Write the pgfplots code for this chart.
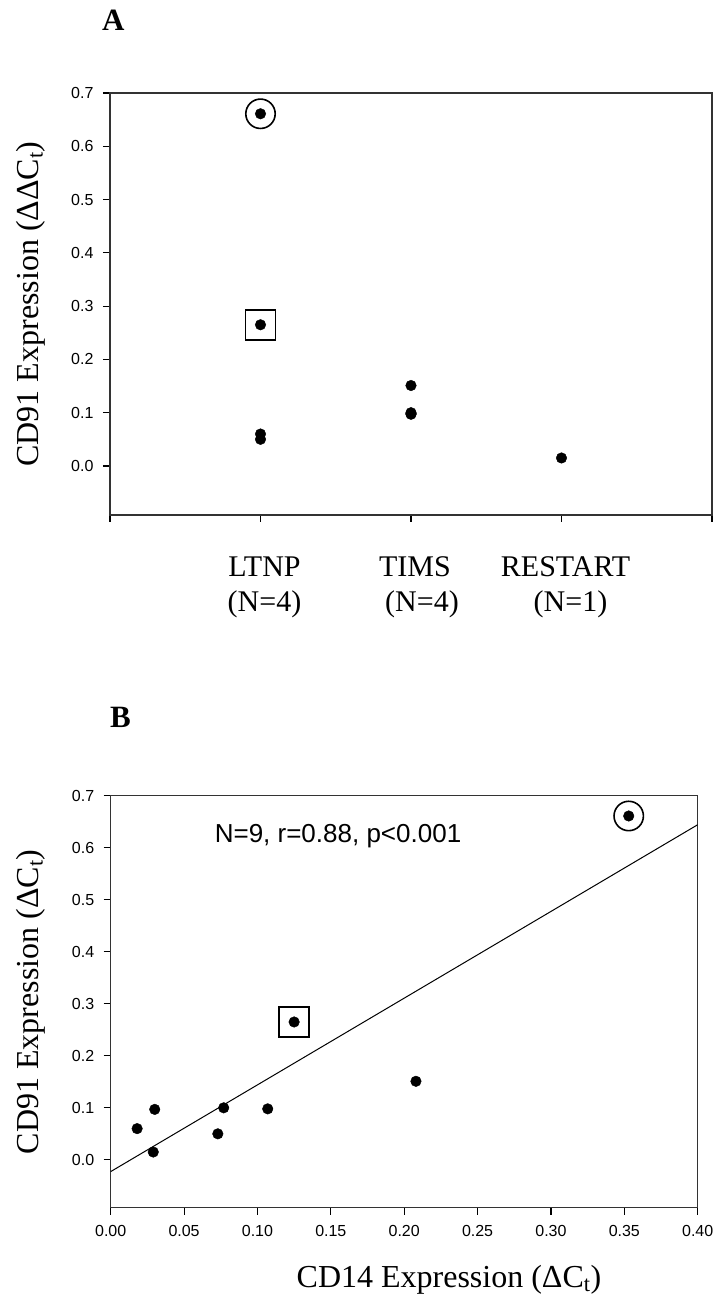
\documentclass[border=0pt]{standalone}
\usepackage{fontspec}
\setmainfont{Liberation Serif}
\newfontfamily\arialfont{Liberation Sans}
\usepackage{pgfplots}
\pgfplotsset{compat=1.18}

\newcommand\tickfont{\arialfont\fontsize{16bp}{19bp}\selectfont}
\newcommand\labelfont{\fontsize{32bp}{38bp}\selectfont}
\newcommand\catfont{\fontsize{30bp}{35bp}\selectfont}
\newcommand\panelfont{\bfseries\fontsize{31bp}{36bp}\selectfont}

\pgfplotsset{
  panel/.style={
    scale only axis,
    axis line style={black!80, line width=1.1bp},
    tick align=outside,
    tick pos=left,
    major tick length=7bp,
    every tick/.style={black, line width=1.1bp},
    ticklabel style={font=\tickfont},
    /pgf/number format/assume math mode=true,
    ymin=-0.092, ymax=0.7,
    ytick={0,0.1,0.2,0.3,0.4,0.5,0.6,0.7},
    yticklabel style={xshift=-6bp, /pgf/number format/.cd, fixed, fixed zerofill, precision=1},
    ylabel style={font=\labelfont, anchor=base},
    xlabel style={font=\labelfont, anchor=base},
  },
  dots/.style={only marks, mark=*, mark size=5.3bp, black},
  ringed/.style={only marks, mark=o, mark size=14.7bp, line width=1.6bp, black},
  boxed/.style={only marks, mark=square, mark size=15bp, line width=1.8bp, black},
}

\begin{document}
\begin{tikzpicture}
\path[use as bounding box] (0,0) rectangle (713bp,1295bp);

\node[font=\panelfont, anchor=base west, inner sep=0pt] at (102bp,1264bp) {A};
\node[font=\panelfont, anchor=base west, inner sep=0pt] at (110bp,567bp) {B};

% Panel A: CD91 by patient group
\begin{axis}[panel,
  at={(110bp,780bp)}, anchor=south west,
  width=602bp, height=422bp,
  xmin=0, xmax=4, xtick={0,1,2,3,4},
  xticklabels={{}, {LTNP\\(N=4)}, {TIMS\\\hspace*{14bp}(N=4)}, {RESTART\\\hspace*{10bp}(N=1)}, {}},
  xticklabel style={font=\catfont, align=center, anchor=base, yshift=-90bp, xshift=4bp},
  ylabel={CD91 Expression (ΔΔC\textsubscript{t})},
  ylabel style={at={(axis description cs:-0.1186,0.5)}},
]
\addplot[dots] coordinates {
  (1,0.661) (1,0.265) (1,0.060) (1,0.050)
  (2,0.151) (2,0.100) (2,0.098) (2,0.097)
  (3,0.015)
};
\addplot[ringed] coordinates {(1,0.661)};
\addplot[boxed] coordinates {(1,0.265)};
\end{axis}

% Panel B: CD91 against CD14 with least-squares line
\begin{axis}[panel,
  at={(110.7bp,87.3bp)}, anchor=south west,
  width=587bp, height=412bp,
  xmin=0, xmax=0.4,
  xtick={0,0.05,0.1,0.15,0.2,0.25,0.3,0.35,0.4},
  xticklabel style={yshift=-7bp, /pgf/number format/.cd, fixed, fixed zerofill, precision=2},
  ylabel={CD91 Expression (ΔC\textsubscript{t})},
  ylabel style={at={(axis description cs:-0.1228,0.5)}},
  xlabel={CD14 Expression (ΔC\textsubscript{t})},
  xlabel style={at={(axis description cs:0.5763,-0.1925)}},
]
\addplot[black, line width=1bp] coordinates {(0,-0.0226) (0.4,0.6442)};
\addplot[dots] coordinates {
  (0.018,0.060) (0.030,0.097) (0.029,0.015) (0.073,0.050) (0.077,0.100)
  (0.107,0.098) (0.125,0.265) (0.208,0.151) (0.353,0.661)
};
\addplot[ringed] coordinates {(0.353,0.661)};
\addplot[boxed] coordinates {(0.125,0.265)};
\node[font=\arialfont\fontsize{26bp}{30bp}\selectfont, anchor=base west, inner sep=0pt]
  at (rel axis cs:0.177,0.8876) {N=9, r=0.88, p<0.001};
\end{axis}
\end{tikzpicture}
\end{document}
